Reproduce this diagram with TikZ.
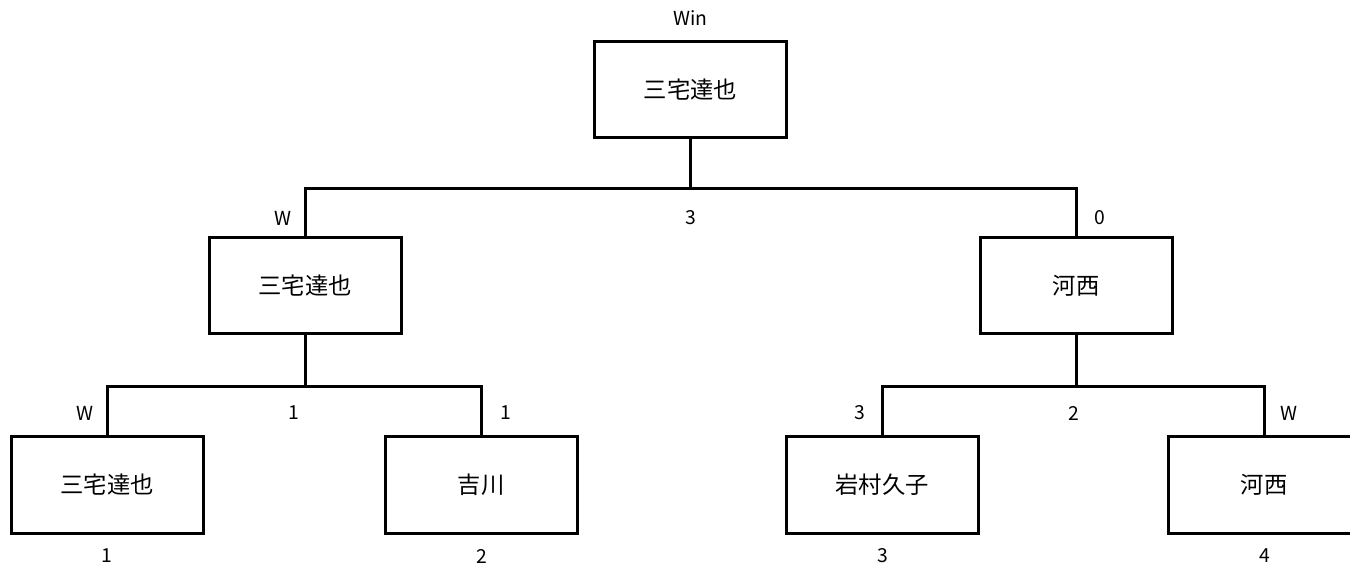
\documentclass[tikz,border=0pt]{standalone}
\usepackage{fontspec}
\setmainfont{Noto Sans CJK JP}
\begin{document}
\begin{tikzpicture}[x=0.75pt,y=-0.75pt,
  player/.style={draw,line width=2.25pt,minimum width=144pt,minimum height=72pt,inner sep=0pt,font=\fontsize{17.5}{20}\selectfont},
  lbl/.style={inner sep=0pt,font=\fontsize{14.5}{16}\selectfont},
  link/.style={line width=2.25pt}]
\useasboundingbox (0,0) rectangle (1350,573);
\clip (0,0) rectangle (1350,573);
% boxes
\node[player] (top) at (690.5,90) {三宅達也};
\node[player] (l2a) at (305,286) {三宅達也};
\node[player] (l2b) at (1076,286) {河西};
\node[player] (p1) at (107,485) {三宅達也};
\node[player] (p2) at (481,485) {吉川};
\node[player] (p3) at (882,485) {岩村久子};
\node[player] (p4) at (1264,485) {河西};
% junctions
\coordinate (j1) at (690.5,189);
\coordinate (j2) at (305,387);
\coordinate (j3) at (1076,387);
% connectors
\draw[link] (top.south) -- (j1);
\draw[link] (l2a.north) -- (l2a.north |- j1) -- (l2b.north |- j1) -- (l2b.north);
\draw[link] (l2a.south) -- (j2);
\draw[link] (p1.north) -- (p1.north |- j2) -- (p2.north |- j2) -- (p2.north);
\draw[link] (l2b.south) -- (j3);
\draw[link] (p3.north) -- (p3.north |- j3) -- (p4.north |- j3) -- (p4.north);
% labels
\node[lbl] (win) at (690.5,18) {Win};
\node[lbl] (s1a) at (283,218) {W};
\node[lbl] (s1m) at (690.5,218) {3};
\node[lbl] (s1b) at (1100,218) {0};
\node[lbl] (s2a) at (85,413) {W};
\node[lbl] (s2m) at (294,413) {1};
\node[lbl] (s2b) at (506,413) {1};
\node[lbl] (s3a) at (860,413) {3};
\node[lbl] (s3m) at (1074,413) {2};
\node[lbl] (s3b) at (1289,413) {W};
\node[lbl] (n1) at (107,556) {1};
\node[lbl] (n2) at (482,556) {2};
\node[lbl] (n3) at (883,556) {3};
\node[lbl] (n4) at (1265,556) {4};
\end{tikzpicture}
\end{document}
